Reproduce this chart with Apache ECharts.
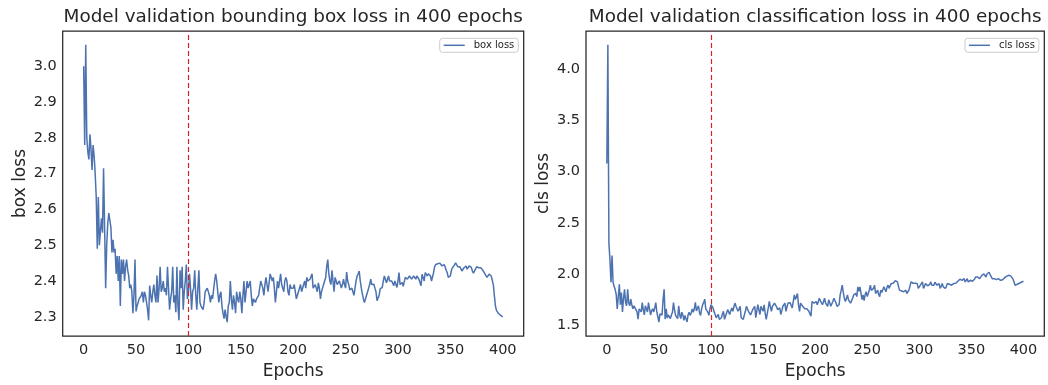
<!DOCTYPE html>
<html><head><meta charset="utf-8">
<script src="https://cdn.jsdelivr.net/npm/echarts@6/dist/echarts.min.js"></script>
<style>html,body{margin:0;padding:0;background:#fff}#c{width:1048px;height:385px}</style>
</head><body><div id="c"></div>
<script>
// Validation box loss, epochs 0..400
const boxLoss = [
3.00,2.78,3.06,2.80,2.76,2.74,2.81,2.77,2.71,2.78,
2.75,2.70,2.635,2.49,2.635,2.50,2.54,2.575,2.535,2.715,
2.55,2.38,2.50,2.56,2.59,2.585,2.55,2.48,2.515,2.48,
2.49,2.42,2.47,2.40,2.47,2.33,2.46,2.42,2.46,2.40,
2.44,2.46,2.43,2.415,2.38,2.39,2.37,2.31,2.36,2.46,
2.315,2.33,2.34,2.35,2.345,2.36,2.37,2.34,2.37,2.36,
2.34,2.32,2.29,2.387,2.36,2.34,2.37,2.39,2.36,2.34,
2.415,2.34,2.38,2.44,2.37,2.38,2.40,2.37,2.38,2.36,
2.44,2.38,2.32,2.35,2.37,2.44,2.34,2.36,2.313,2.44,
2.33,2.29,2.43,2.38,2.44,2.32,2.37,2.40,2.446,2.35,
2.37,2.42,2.38,2.32,2.37,2.38,2.43,2.36,2.32,2.38,
2.43,2.34,2.33,2.33,2.32,2.34,2.37,2.37,2.38,2.38,
2.36,2.34,2.36,2.35,2.35,2.40,2.42,2.40,2.37,2.34,
2.36,2.37,2.33,2.31,2.295,2.32,2.30,2.285,2.33,2.34,
2.40,2.35,2.32,2.36,2.34,2.31,2.37,2.35,2.34,2.37,
2.35,2.31,2.36,2.40,2.34,2.37,2.40,2.38,2.39,2.40,
2.36,2.33,2.35,2.35,2.34,2.35,2.35,2.36,2.38,2.40,
2.39,2.38,2.36,2.39,2.41,2.39,2.37,2.37,2.42,2.41,
2.40,2.41,2.38,2.34,2.37,2.40,2.38,2.40,2.42,2.39,
2.38,2.37,2.40,2.41,2.40,2.37,2.36,2.39,2.38,2.38,
2.38,2.39,2.37,2.35,2.345,2.37,2.38,2.39,2.37,2.365,
2.39,2.40,2.38,2.41,2.40,2.395,2.405,2.41,2.42,2.38,
2.38,2.39,2.38,2.37,2.395,2.38,2.35,2.37,2.38,2.39,
2.40,2.41,2.44,2.46,2.42,2.40,2.39,2.43,2.40,2.37,
2.41,2.40,2.39,2.395,2.40,2.40,2.38,2.39,2.405,2.39,
2.38,2.425,2.40,2.39,2.375,2.373,2.38,2.37,2.36,2.38,
2.40,2.414,2.42,2.428,2.40,2.38,2.364,2.35,2.34,2.336,
2.36,2.37,2.38,2.39,2.405,2.39,2.387,2.391,2.38,2.37,
2.345,2.35,2.36,2.378,2.38,2.382,2.40,2.414,2.405,2.395,
2.40,2.414,2.40,2.396,2.40,2.395,2.387,2.40,2.405,2.382,
2.40,2.4235,2.39,2.39,2.396,2.385,2.382,2.41,2.414,2.405,
2.41,2.414,2.41,2.405,2.41,2.414,2.41,2.405,2.414,2.41,
2.405,2.40,2.387,2.419,2.41,2.40,2.4235,2.42,2.414,2.42,
2.4235,2.414,2.40,2.396,2.4235,2.44,2.446,2.451,2.448,2.446,
2.45,2.455,2.442,2.445,2.446,2.44,2.43,2.4235,2.41,2.405,
2.414,2.43,2.437,2.433,2.445,2.451,2.446,2.44,2.437,2.44,
2.442,2.428,2.432,2.437,2.44,2.442,2.433,2.438,2.442,2.446,
2.438,2.428,2.422,2.419,2.433,2.44,2.442,2.437,2.437,2.437,
2.433,2.43,2.428,2.42,2.419,2.41,2.415,2.419,2.416,2.414,
2.41,2.39,2.36,2.33,2.318,2.313,2.309,2.307,2.304,2.302,
2.30
];
// Validation classification loss, epochs 0..400
const clsLoss = [
3.08,4.24,2.30,2.14,1.92,2.18,1.92,1.88,1.85,1.80,
1.66,1.78,1.90,1.70,1.82,1.63,1.76,1.85,1.72,1.69,
1.85,1.72,1.69,1.755,1.70,1.66,1.69,1.67,1.66,1.63,
1.56,1.66,1.65,1.63,1.72,1.65,1.60,1.69,1.66,1.63,
1.72,1.66,1.60,1.64,1.66,1.63,1.67,1.72,1.63,1.58,
1.53,1.61,1.60,1.60,1.75,1.85,1.56,1.66,1.57,1.60,
1.596,1.564,1.60,1.627,1.72,1.65,1.596,1.58,1.564,1.69,
1.60,1.564,1.627,1.60,1.548,1.596,1.58,1.532,1.60,1.627,
1.596,1.62,1.659,1.627,1.66,1.723,1.64,1.627,1.69,1.62,
1.596,1.659,1.70,1.723,1.755,1.66,1.65,1.627,1.596,1.66,
1.70,1.69,1.669,1.63,1.605,1.573,1.59,1.605,1.557,1.565,
1.573,1.61,1.636,1.557,1.59,1.62,1.652,1.63,1.605,1.64,
1.669,1.636,1.68,1.716,1.685,1.66,1.636,1.66,1.685,1.573,
1.565,1.557,1.60,1.636,1.685,1.66,1.636,1.62,1.60,1.589,
1.652,1.67,1.685,1.573,1.64,1.70,1.65,1.605,1.685,1.66,
1.636,1.70,1.62,1.557,1.61,1.669,1.732,1.68,1.636,1.685,
1.70,1.716,1.70,1.68,1.652,1.66,1.669,1.605,1.64,1.685,
1.70,1.716,1.636,1.68,1.716,1.70,1.72,1.732,1.669,1.73,
1.796,1.75,1.732,1.81,1.70,1.636,1.716,1.70,1.685,1.669,
1.66,1.652,1.66,1.669,1.636,1.61,1.589,1.732,1.72,1.716,
1.73,1.732,1.70,1.73,1.764,1.74,1.732,1.70,1.73,1.764,
1.716,1.70,1.685,1.748,1.72,1.685,1.70,1.732,1.764,1.748,
1.72,1.685,1.69,1.70,1.796,1.84,1.891,1.82,1.764,1.732,
1.76,1.796,1.748,1.73,1.716,1.74,1.764,1.796,1.80,1.81,
1.78,1.875,1.83,1.875,1.86,1.75,1.796,1.74,1.80,1.827,
1.78,1.81,1.843,1.891,1.84,1.827,1.86,1.891,1.81,1.82,
1.843,1.80,1.78,1.843,1.82,1.81,1.875,1.85,1.827,1.87,
1.891,1.86,1.885,1.907,1.891,1.91,1.923,1.935,1.939,1.923,
1.88,1.843,1.843,1.835,1.827,1.827,1.835,1.843,1.81,1.82,
1.843,1.88,1.923,1.939,1.91,1.891,1.91,1.923,1.907,1.86,
1.87,1.891,1.91,1.923,1.86,1.88,1.907,1.891,1.885,1.875,
1.90,1.923,1.891,1.89,1.891,1.92,1.939,1.891,1.90,1.907,
1.86,1.88,1.907,1.875,1.87,1.86,1.88,1.907,1.891,1.90,
1.907,1.891,1.90,1.907,1.907,1.91,1.923,1.93,1.939,1.95,
1.955,1.939,1.95,1.955,1.923,1.94,1.955,1.923,1.93,1.939,
1.939,1.93,1.923,1.95,1.971,1.955,1.97,1.987,1.955,1.97,
1.987,1.995,2.002,1.985,1.971,2.00,2.018,2.018,1.995,1.975,
1.955,1.955,1.955,1.955,1.945,1.939,1.955,1.945,1.939,1.939,
1.945,1.955,1.965,1.971,1.98,1.987,1.988,1.99,1.98,1.971,
1.95,1.92,1.891,1.895,1.90,1.907,1.91,1.914,1.92,1.923,
1.93
];
const epochs = boxLoss.map((_, i) => i);
const xTicks = [0, 50, 100, 150, 200, 250, 300, 350, 400];
const boxTicks = [2.3, 2.4, 2.5, 2.6, 2.7, 2.8, 2.9, 3.0];
const clsTicks = [1.5, 2.0, 2.5, 3.0, 3.5, 4.0];
const markEpoch = 100;
const titles = ['Model validation bounding box loss in 400 epochs', 'Model validation classification loss in 400 epochs'];
const yNames = ['box loss', 'cls loss'];
const seriesNames = ['box loss', 'cls loss'];

const FONT = 'DejaVu Sans';
const INK = '#262626';
function pad(arr) {
  const mn = Math.min(...arr), mx = Math.max(...arr), m = (mx - mn) * 0.05;
  return [mn - m, mx + m];
}
const xb = pad(epochs);
const yb = [pad(boxLoss), pad(clsLoss)];
const grids = [
  {left: 62.7, right: 524.3, top: 31, bottom: 43},
  {left: 586, right: 3.7, top: 31, bottom: 43}
];
const centers = [(62.7 + 523.7) / 2, (586 + 1044.3) / 2];
const chart = echarts.init(document.getElementById('c'), null, {renderer: 'canvas'});
const opt = {
  animation: false,
  backgroundColor: '#fff',
  textStyle: {fontFamily: FONT, color: INK},
  title: titles.map((t, i) => ({
    text: t, left: centers[i], top: 8, textAlign: 'center', padding: 0,
    textStyle: {fontFamily: FONT, fontSize: 18.4, fontWeight: 'normal', color: INK}
  })),
  legend: [0, 1].map(i => ({
    data: [seriesNames[i]],
    right: i === 0 ? 529.7 : 9.1, top: 38.3,
    orient: 'vertical',
    icon: 'rect', itemWidth: 21, itemHeight: 1.5,
    padding: [2, 4, 2, 4],
    borderColor: '#cccccc', borderWidth: 1, borderRadius: 3,
    backgroundColor: 'rgba(255,255,255,0.8)',
    textStyle: {fontFamily: FONT, fontSize: 10, color: INK, padding: [0, 0, 0, 4]}
  })),
  grid: grids.map(g => Object.assign({show: true, borderColor: INK, borderWidth: 1.25, backgroundColor: '#fff', containLabel: false}, g)),
  xAxis: [0, 1].map(i => ({
    type: 'value', gridIndex: i, min: xb[0], max: xb[1],
    name: 'Epochs', nameLocation: 'middle', nameGap: 27,
    nameTextStyle: {fontFamily: FONT, fontSize: 17, color: INK},
    axisLine: {show: false}, axisTick: {show: false}, splitLine: {show: false},
    axisLabel: {customValues: xTicks, fontFamily: FONT, fontSize: 14.5, color: INK, margin: 7,
      formatter: v => String(Math.round(v))}
  })),
  yAxis: [0, 1].map(i => ({
    type: 'value', gridIndex: i, min: yb[i][0], max: yb[i][1],
    name: yNames[i], nameLocation: 'middle', nameGap: 34,
    nameTextStyle: {fontFamily: FONT, fontSize: 17, color: INK},
    axisLine: {show: false}, axisTick: {show: false}, splitLine: {show: false},
    axisLabel: {customValues: i === 0 ? boxTicks : clsTicks, fontFamily: FONT, fontSize: 14.5, color: INK, margin: 6,
      formatter: v => v.toFixed(1)}
  })),
  series: [boxLoss, clsLoss].map((arr, i) => ({
    name: seriesNames[i], type: 'line', xAxisIndex: i, yAxisIndex: i,
    data: epochs.map((e, j) => [e, arr[j]]),
    symbol: 'none', showSymbol: false,
    lineStyle: {color: '#4C72B0', width: 1.5},
    itemStyle: {color: '#4C72B0'},
    markLine: {
      silent: true, symbol: ['none', 'none'], label: {show: false},
      lineStyle: {type: [5, 3], color: '#d62728', width: 1.2},
      data: [{xAxis: markEpoch}]
    }
  }))
};
chart.setOption(opt);
</script>
</body></html>
